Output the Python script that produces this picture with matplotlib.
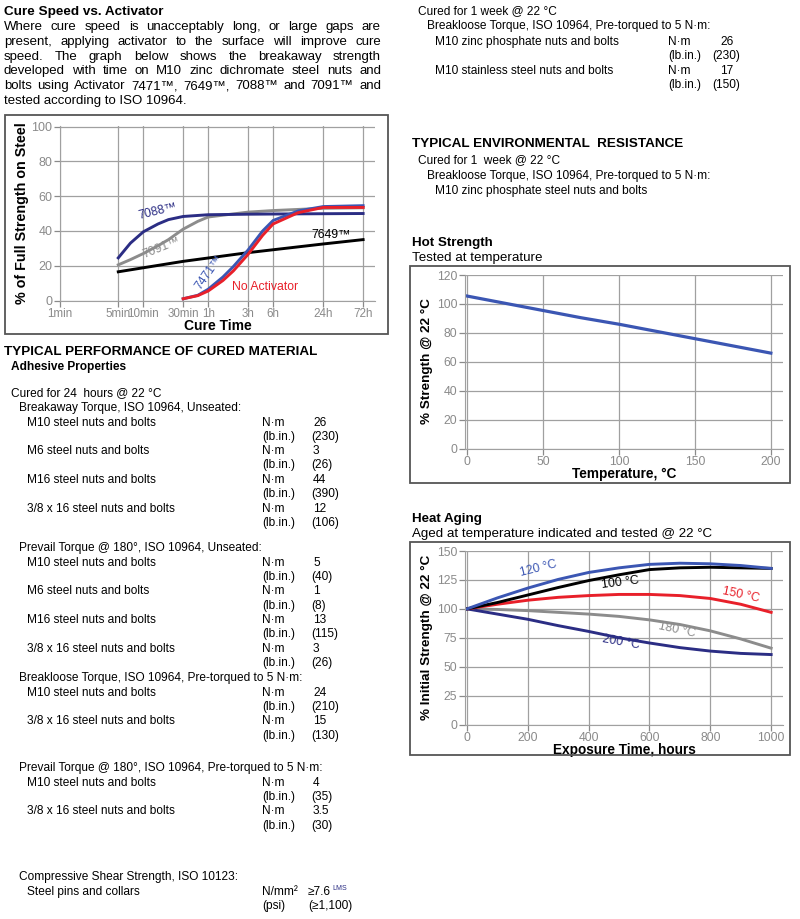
import matplotlib
matplotlib.use('Agg')
import matplotlib.pyplot as plt
from matplotlib.patches import Rectangle

plt.rcParams['font.family'] = ['Liberation Sans', 'DejaVu Sans']

W, H = 800, 919

# ---------------- data ----------------
cure_ticks = [1, 5, 10, 30, 60, 180, 360, 1440, 4320]
cure_tick_labels = ['1min', '5min', '10min', '30min', '1h', '3h', '6h', '24h', '72h']

t_7088 = [5, 7, 10, 15, 20, 30, 60, 180, 720, 4320]
y_7088 = [24.5, 33, 39.5, 44, 46.5, 48.3, 49.3, 49.6, 49.8, 50]

t_7091 = [5, 7, 10, 15, 20, 30, 45, 60, 180, 360, 1440, 4320]
y_7091 = [20.5, 23.5, 27, 31.5, 35, 41, 45.5, 48, 50.8, 51.7, 53, 53.3]

t_7649 = [5, 30, 180, 1440, 4320]
y_7649 = [16.5, 22.5, 27.5, 32.5, 35]

t_7471 = [30, 45, 60, 90, 120, 180, 270, 360, 720, 1440, 4320]
y_7471 = [1, 3, 6.5, 13.5, 19.5, 29, 40, 46, 51.5, 54, 54.5]

t_none = [30, 45, 60, 90, 120, 180, 270, 360, 720, 1440, 4320]
y_none = [1, 2.8, 5.5, 11.5, 17, 26.5, 37.5, 44, 50.5, 53.5, 53.5]

hot_temp = [0, 25, 50, 75, 100, 125, 150, 175, 200]
hot_strength = [105.5, 100.5, 95.5, 90.5, 86, 81, 76, 71, 66]

age_hours = [0, 100, 200, 300, 400, 500, 600, 700, 800, 900, 1000]
age_120 = [100, 109.5, 118, 125.5, 131.5, 135.5, 138.5, 139.5, 139, 137.5, 135]
age_100 = [100, 105.5, 112, 118.5, 124.5, 129.5, 134, 135.5, 136, 135.5, 135]
age_150 = [100, 104, 107.5, 110, 111.5, 112.5, 112.5, 111.5, 109, 104, 97]
age_180 = [100, 99.5, 98.5, 97, 95.5, 93.5, 90.5, 86.5, 81, 74, 66]
age_200 = [100, 95.5, 91, 85.5, 80.5, 75, 70.5, 66.5, 63.5, 61.5, 60.5]

NAVY = '#2b2d84'
BLUE = '#3b56b3'
GRAY = '#8c8c8c'
RED = '#e8202a'
GRID = '#a0a0a0'
TICK = '#8a8a8a'

BODY = 8.6
fig = plt.figure(figsize=(W / 100, H / 100), dpi=100)


def ftxt(x, y, s, **kw):
    kw.setdefault('va', 'center')
    kw.setdefault('fontsize', BODY)
    return fig.text(x / W, 1 - y / H, s, **kw)


def frame(x0, y0, x1, y1):
    fig.add_artist(Rectangle((x0 / W, 1 - y1 / H), (x1 - x0) / W, (y1 - y0) / H,
                             transform=fig.transFigure, fill=False, ec='#555555', lw=1.3))


def make_axes(x0, y0, x1, y1):
    ax = fig.add_axes([x0 / W, 1 - y1 / H, (x1 - x0) / W, (y1 - y0) / H])
    for s in ['top', 'right']:
        ax.spines[s].set_visible(False)
    for s in ['left', 'bottom']:
        ax.spines[s].set_color(GRID)
    ax.grid(True, color=GRID, lw=0.9)
    ax.set_axisbelow(True)
    ax.tick_params(colors=TICK, labelcolor=TICK, length=4, width=0.9, pad=1.5, labelsize=8.8)
    return ax


# ---------------- left column text ----------------
ftxt(4, 12, 'Cure Speed vs. Activator', fontweight='bold', fontsize=9.7)
para = ['Where cure speed is unacceptably long, or large gaps are',
        'present, applying activator to the surface will improve cure',
        'speed. The graph below shows the breakaway strength',
        'developed with time on M10 zinc dichromate steel nuts and',
        'bolts using Activator 7471™, 7649™, 7088™ and 7091™ and',
        'tested according to ISO 10964.']
renderer = fig.canvas.get_renderer()
left, right = 4, 381
for i, line in enumerate(para):
    y = 27 + i * 14.8
    if i == len(para) - 1:
        ftxt(left, y, line, fontsize=9.5)
        continue
    words = line.split(' ')
    objs = [ftxt(left, y, w, fontsize=9.5) for w in words]
    widths = [o.get_window_extent(renderer).width for o in objs]
    gap = (right - left - sum(widths)) / (len(words) - 1)
    x = left
    for o, w in zip(objs, widths):
        o.set_x(x / W)
        x += w + gap

ftxt(4, 352, 'TYPICAL PERFORMANCE OF CURED MATERIAL', fontweight='bold', fontsize=9.7)
ftxt(11, 367, 'Adhesive Properties', fontweight='bold')
ftxt(11, 393, 'Cured for 24  hours @ 22 °C')


def prop_rows(y0, header, rows):
    ftxt(19, y0, header)
    y = y0 + 14.7
    for name, nm, lb in rows:
        ftxt(27, y, name)
        ftxt(262, y, 'N·m')
        ftxt(313, y, nm)
        ftxt(262, y + 14, '(lb.in.)')
        ftxt(311, y + 14, lb)
        y += 28.8


prop_rows(408, 'Breakaway Torque, ISO 10964, Unseated:',
          [('M10 steel nuts and bolts', '26', '(230)'),
           ('M6 steel nuts and bolts', '3', '(26)'),
           ('M16 steel nuts and bolts', '44', '(390)'),
           ('3/8 x 16 steel nuts and bolts', '12', '(106)')])
prop_rows(548, 'Prevail Torque @ 180°, ISO 10964, Unseated:',
          [('M10 steel nuts and bolts', '5', '(40)'),
           ('M6 steel nuts and bolts', '1', '(8)'),
           ('M16 steel nuts and bolts', '13', '(115)'),
           ('3/8 x 16 steel nuts and bolts', '3', '(26)')])
prop_rows(678, 'Breakloose Torque, ISO 10964, Pre-torqued to 5 N·m:',
          [('M10 steel nuts and bolts', '24', '(210)'),
           ('3/8 x 16 steel nuts and bolts', '15', '(130)')])
prop_rows(768, 'Prevail Torque @ 180°, ISO 10964, Pre-torqued to 5 N·m:',
          [('M10 steel nuts and bolts', '4', '(35)'),
           ('3/8 x 16 steel nuts and bolts', '3.5', '(30)')])

ftxt(19, 877, 'Compressive Shear Strength, ISO 10123:')
ftxt(27, 892, 'Steel pins and collars')
ftxt(262, 892, 'N/mm²')
ftxt(308, 892, '≥7.6')
ftxt(332, 888, 'LMS', fontsize=5, color=NAVY)
ftxt(262, 906, '(psi)')
ftxt(308, 906, '(≥1,100)')

# ---------------- right column text ----------------
ftxt(418, 11, 'Cured for 1 week @ 22 °C')
ftxt(427, 26, 'Breakloose Torque, ISO 10964, Pre-torqued to 5 N·m:')
ftxt(435, 42, 'M10 zinc phosphate nuts and bolts')
ftxt(668, 42, 'N·m')
ftxt(720, 42, '26')
ftxt(668, 56, '(lb.in.)')
ftxt(712, 56, '(230)')
ftxt(435, 71, 'M10 stainless steel nuts and bolts')
ftxt(668, 71, 'N·m')
ftxt(720, 71, '17')
ftxt(668, 85, '(lb.in.)')
ftxt(712, 85, '(150)')

ftxt(412, 144, 'TYPICAL ENVIRONMENTAL  RESISTANCE', fontweight='bold', fontsize=9.7)
ftxt(418, 160, 'Cured for 1  week @ 22 °C')
ftxt(427, 176, 'Breakloose Torque, ISO 10964, Pre-torqued to 5 N·m:')
ftxt(435, 191, 'M10 zinc phosphate steel nuts and bolts')

# ---------------- cure speed chart ----------------
frame(5, 115, 388, 334)
ax = make_axes(60, 126, 375, 300.5)
ax.set_xscale('log')
ax.set_xlim(1, 6000)
ax.set_ylim(0, 100.3)
ax.set_xticks(cure_ticks)
ax.set_xticklabels(cure_tick_labels)
ax.minorticks_off()
ax.set_yticks([0, 20, 40, 60, 80, 100])
ax.tick_params(axis='y', labelsize=9)
ax.tick_params(axis='x', labelsize=8.4)
ax.plot(t_7091, y_7091, color=GRAY, lw=2.1)
ax.plot(t_7088, y_7088, color=NAVY, lw=2.1)
ax.plot(t_7649, y_7649, color='black', lw=2.1)
ax.plot(t_7471, y_7471, color=BLUE, lw=2.1)
ax.plot(t_none, y_none, color=RED, lw=2.1)
ax.set_ylabel('% of Full Strength on Steel', fontweight='bold', fontsize=10.3, labelpad=2)
ax.set_xlabel('Cure Time', fontweight='bold', fontsize=10, labelpad=-1)
ax.text(15, 51.5, '7088™', color=NAVY, rotation=14, fontsize=8.8, ha='center', va='center')
ax.text(16.5, 30, '7091™', color=GRAY, rotation=22, fontsize=8.8, ha='center', va='center')
ax.text(1800, 37.5, '7649™', color='black', fontsize=8.8, ha='center', va='center')
ax.text(62, 16, '7471™', color=BLUE, rotation=55, fontsize=8.8, ha='center', va='center')
ax.text(290, 8, 'No Activator', color=RED, fontsize=8.8, ha='center', va='center')

# ---------------- hot strength chart ----------------
ftxt(412, 243, 'Hot Strength', fontweight='bold', fontsize=9.6)
ftxt(412, 258, 'Tested at temperature', fontsize=9.6)
frame(410, 266, 790, 483)
ax = make_axes(465, 274.5, 783, 448.5)
ax.set_xlim(-1.3, 208)
ax.set_ylim(0, 120.4)
ax.set_xticks([0, 50, 100, 150, 200])
ax.set_yticks([0, 20, 40, 60, 80, 100, 120])
ax.plot(hot_temp, hot_strength, color=BLUE, lw=2.3)
ax.set_ylabel('% Strength @ 22 °C', fontweight='bold', fontsize=9.7, labelpad=3)
ax.set_xlabel('Temperature, °C', fontweight='bold', fontsize=9.8, labelpad=-1)

# ---------------- heat aging chart ----------------
ftxt(412, 519, 'Heat Aging', fontweight='bold', fontsize=9.6)
ftxt(412, 534, 'Aged at temperature indicated and tested @ 22 °C', fontsize=9.6)
frame(410, 542, 790, 755)
ax = make_axes(465, 550.5, 783, 724.5)
ax.set_xlim(-6.6, 1039)
ax.set_ylim(0, 150.5)
ax.set_xticks([0, 200, 400, 600, 800, 1000])
ax.set_yticks([0, 25, 50, 75, 100, 125, 150])
ax.plot(age_hours, age_180, color=GRAY, lw=2.1)
ax.plot(age_hours, age_200, color=NAVY, lw=2.1)
ax.plot(age_hours, age_150, color=RED, lw=2.1)
ax.plot(age_hours, age_100, color='black', lw=2.1)
ax.plot(age_hours, age_120, color=BLUE, lw=2.1)
ax.text(235, 135, '120 °C', color=BLUE, rotation=14, fontsize=8.8, ha='center', va='center')
ax.text(505, 123, '100 °C', color='black', rotation=7, fontsize=8.8, ha='center', va='center')
ax.text(900, 112, '150 °C', color=RED, rotation=-12, fontsize=8.8, ha='center', va='center')
ax.text(690, 81.5, '180 °C', color=GRAY, rotation=-12, fontsize=8.8, ha='center', va='center')
ax.text(505, 71, '200 °C', color=NAVY, rotation=-10, fontsize=8.8, ha='center', va='center')
ax.set_ylabel('% Initial Strength @ 22 °C', fontweight='bold', fontsize=9.7, labelpad=3)
ax.set_xlabel('Exposure Time, hours', fontweight='bold', fontsize=9.8, labelpad=-1)

fig.savefig('out.png', dpi=100)
